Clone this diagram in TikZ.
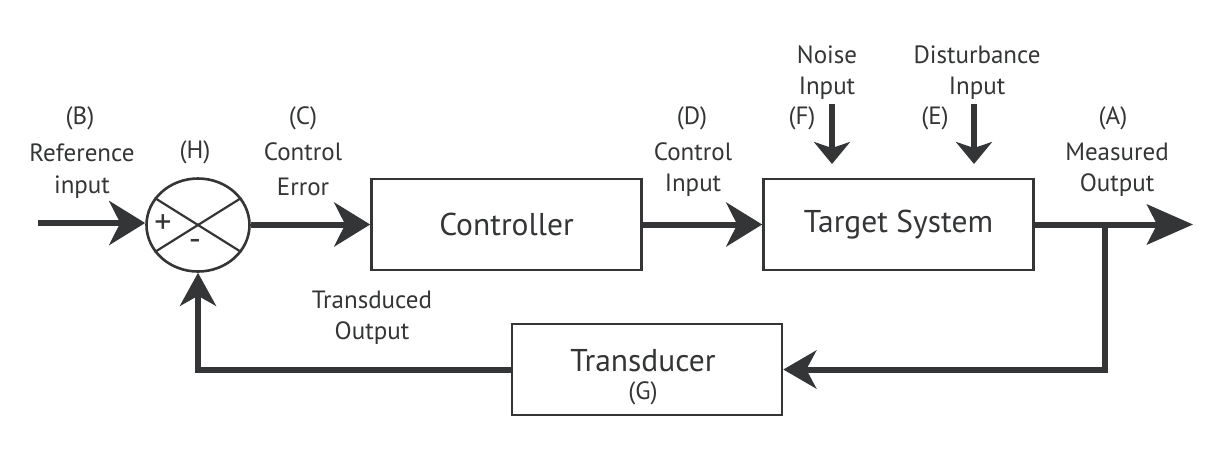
\documentclass[tikz,border=0pt]{standalone}
\usepackage{fontspec}
\setmainfont{PT Sans}
\usetikzlibrary{arrows.meta,shapes.geometric}
\definecolor{ink}{HTML}{333536}
\begin{document}
\begin{tikzpicture}[x=1pt,y=-1pt,
  block/.style={draw=ink,line width=2.6pt,minimum width=270pt,minimum height=91pt,inner sep=0pt,font=\fontsize{31.5}{34}\selectfont,text=ink},
  lbl/.style={font=\fontsize{25}{28}\selectfont,text=ink,inner sep=0pt,align=center},
  sign/.style={font=\fontsize{34}{36}\selectfont,text=ink,inner sep=0pt},
  arr/.style={draw=ink,line width=6pt,-{Stealth[length=36pt,width=44pt,inset=11pt]}},
  varr/.style={draw=ink,line width=6pt,-{Stealth[length=22pt,width=36pt,inset=6pt]}}]
\useasboundingbox (0,0) rectangle (1228,451);
% blocks
\node[block] (ctl) at (506.5,224.5) {Controller};
\node[block] (ts) at (898.5,224.5) {Target System};
\node[block] (td) at (647,369.5) {};
\node[font=\fontsize{31.5}{34}\selectfont,text=ink,inner sep=0pt] (tdname) at (643,361) {Transducer};
\node[lbl] (tdG) at (643,393) {(G)};
% summing junction
\node[draw=ink,line width=2.6pt,ellipse,minimum width=103pt,minimum height=93pt,inner sep=0pt] (H) at (198,225) {};
\draw[ink,line width=2.2pt] (H.148) -- (H.-32);
\draw[ink,line width=2.2pt] (H.-148) -- (H.32);
\node[sign] (plus) at (163,224) {+};
\node[sign] (minus) at (195,245) {-};
% coordinates
\coordinate (in) at (38,223);
\coordinate (split) at (1105,224.5);
\coordinate (out) at (1193,224.5);
\coordinate (n0) at (832,104);
\coordinate (n1) at (832,164);
\coordinate (d0) at (974,104);
\coordinate (d1) at (974,164);
% connectors
\draw[arr] (in) -- (H.west |- in);
\draw[arr] (H.east |- ctl) -- (ctl.west);
\draw[arr] (ctl.east) -- (ts.west);
\draw[arr,-{Stealth[length=46pt,width=40pt,inset=10pt]}] (ts.east) -- (out);
\draw[arr,-{Stealth[length=33pt,width=38pt,inset=10pt]}] (split) |- (td.east);
\draw[arr,-{Stealth[length=33pt,width=36pt,inset=10pt]}] (td.west) -| (H.south);
\draw[varr] (n0) -- (n1);
\draw[varr] (d0) -- (d1);
% labels
\node[lbl] (lB) at (80,118) {(B)};
\node[lbl] (lRef) at (82,153) {Reference};
\node[lbl] (lInp) at (82,187) {input};
\node[lbl] (lH) at (195,152) {(H)};
\node[lbl] (lC) at (303,118) {(C)};
\node[lbl] (lCtl) at (303,152) {Control};
\node[lbl] (lErr) at (303,187) {Error};
\node[lbl] (lD) at (692,118) {(D)};
\node[lbl] (lCtl2) at (693,152) {Control};
\node[lbl] (lIn2) at (693,185) {Input};
\node[lbl] (lF) at (802,118) {(F)};
\node[lbl] (lNoise) at (827,55) {Noise};
\node[lbl] (lNIn) at (827,88) {Input};
\node[lbl] (lE) at (935,118) {(E)};
\node[lbl] (lDist) at (977,55) {Disturbance};
\node[lbl] (lDIn) at (977,88) {Input};
\node[lbl] (lA) at (1113,118) {(A)};
\node[lbl] (lMeas) at (1117,152) {Measured};
\node[lbl] (lOut) at (1117,185) {Output};
\node[lbl] (lTr) at (372,300) {Transduced};
\node[lbl] (lTrO) at (372,333) {Output};
\end{tikzpicture}
\end{document}
